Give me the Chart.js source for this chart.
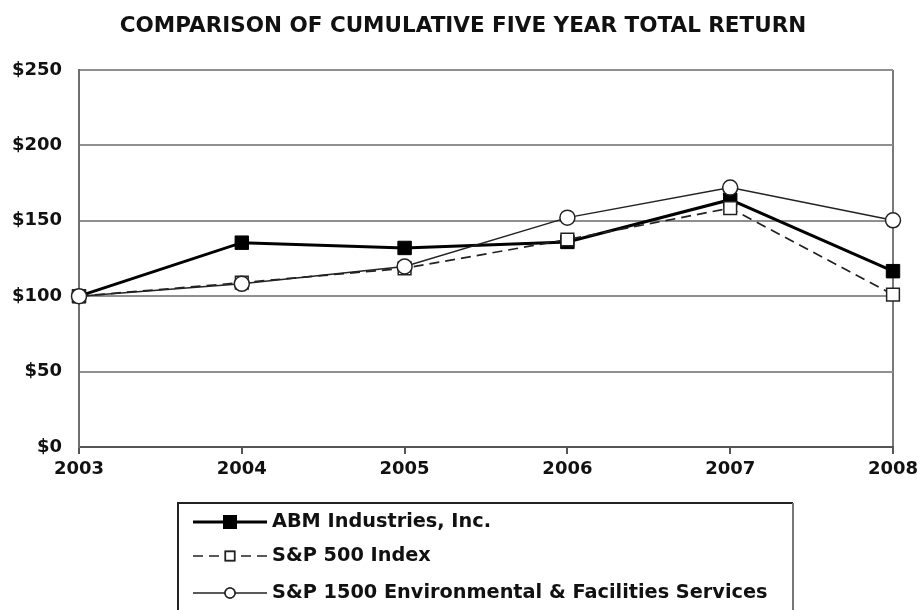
<!DOCTYPE html>
<html>
<head>
<meta charset="utf-8">
<script src="https://cdn.jsdelivr.net/npm/chart.js@4/dist/chart.umd.min.js"></script>
<style>
  body { margin: 0; background: #fff; }
  #wrap { width: 918px; height: 610px; }
</style>
</head>
<body>
<div id="wrap"><canvas id="returnChart" width="918" height="610"></canvas></div>
<script>
// values
const years = ['2003', '2004', '2005', '2006', '2007', '2008'];
const abmValues = [100, 135.5, 132, 136, 164, 116.6];
const sp500Values = [100, 109, 118.5, 137.6, 158.4, 101];
const sp1500Values = [100, 108.2, 119.7, 152.1, 172, 150.3];
const yTicks = [0, 50, 100, 150, 200, 250];
const chartTitle = 'COMPARISON OF CUMULATIVE FIVE YEAR TOTAL RETURN';

const FONT = "'DejaVu Sans', sans-serif";
const INK = '#111';

// title sits a little right of the canvas centre in the original
const titleText = {
    id: 'titleText',
    afterDraw(chart) {
        const ctx = chart.ctx;
        ctx.save();
        ctx.fillStyle = INK;
        ctx.font = 'bold 21.5px ' + FONT;
        ctx.textAlign = 'center';
        ctx.textBaseline = 'middle';
        ctx.fillText(chartTitle, 463, 26);
        ctx.restore();
    }
};

// boxed legend under the plot, line sample with a marker in the middle
const boxLegend = {
    id: 'boxLegend',
    afterDraw(chart) {
        const ctx = chart.ctx;
        const left = 178, top = 503, right = 793;
        ctx.save();
        // frame (bottom runs off the canvas like in the original)
        ctx.strokeStyle = '#222';
        ctx.lineWidth = 2;
        ctx.beginPath();
        ctx.moveTo(left, 620);
        ctx.lineTo(left, top);
        ctx.lineTo(right, top);
        ctx.stroke();
        ctx.strokeStyle = '#777';
        ctx.beginPath();
        ctx.moveTo(right, top);
        ctx.lineTo(right, 620);
        ctx.stroke();

        const rows = [522, 556, 593];
        const markerSize = [6, 5, 5];
        chart.data.datasets.forEach((ds, i) => {
            const y = rows[i];
            ctx.strokeStyle = ds.borderColor;
            ctx.lineWidth = ds.borderWidth;
            ctx.setLineDash(ds.borderDash || []);
            ctx.beginPath();
            ctx.moveTo(193, y);
            ctx.lineTo(267, y);
            ctx.stroke();
            ctx.setLineDash([]);
            Chart.helpers.drawPoint(ctx, {
                pointStyle: ds.pointStyle,
                radius: ds.pointStyle === 'rect' ? markerSize[i] * 1.3 : markerSize[i],
                borderWidth: 1.5
            }, 230, y);
            ctx.fillStyle = ds.pointBackgroundColor;
            ctx.strokeStyle = ds.pointBorderColor;
            ctx.lineWidth = 1.5;
            ctx.fill();
            ctx.stroke();

            ctx.fillStyle = INK;
            ctx.font = 'bold 19.3px ' + FONT;
            ctx.textBaseline = 'middle';
            ctx.textAlign = 'left';
            ctx.fillText(ds.label, 272, y);
        });
        ctx.restore();
    }
};

const ctx = document.getElementById('returnChart').getContext('2d');

new Chart(ctx, {
    type: 'line',
    data: {
        labels: years,
        datasets: [{
            label: 'ABM Industries, Inc.',
            data: abmValues,
            borderColor: '#000',
            borderWidth: 3,
            pointStyle: 'rect',
            pointRadius: 9.5,
            pointBackgroundColor: '#000',
            pointBorderColor: '#000',
            pointBorderWidth: 1,
            order: 2
        }, {
            label: 'S&P 500 Index',
            data: sp500Values,
            borderColor: '#222',
            borderWidth: 1.7,
            borderDash: [10, 6],
            pointStyle: 'rect',
            pointRadius: 9,
            pointBackgroundColor: '#fff',
            pointBorderColor: '#222',
            pointBorderWidth: 1.5,
            order: 1
        }, {
            label: 'S&P 1500 Environmental & Facilities Services',
            data: sp1500Values,
            borderColor: '#222',
            borderWidth: 1.5,
            pointStyle: 'circle',
            pointRadius: 7.5,
            pointBackgroundColor: '#fff',
            pointBorderColor: '#222',
            pointBorderWidth: 1.5,
            order: 0
        }]
    },
    options: {
        responsive: false,
        devicePixelRatio: 1,
        animation: false,
        layout: {
            padding: { left: 0, right: 25, top: 70, bottom: 123 }
        },
        plugins: {
            legend: { display: false },
            tooltip: { enabled: false },
            title: { display: false }
        },
        scales: {
            x: {
                offset: false,
                grid: {
                    // only the outer frame lines inside the plot
                    color: c => (c.index === 0 || c.index === years.length - 1) ? '#7a7a7a' : 'rgba(0,0,0,0)',
                    tickColor: '#555',
                    tickLength: 7,
                    lineWidth: 2
                },
                border: { display: true, color: '#555', width: 2 },
                ticks: {
                    color: INK,
                    padding: 5,
                    maxRotation: 0,
                    font: { family: FONT, size: 18, weight: 'bold' }
                },
                afterFit: s => { s.height = 40; s.paddingRight = 0; }
            },
            y: {
                min: 0,
                max: 250,
                afterBuildTicks: s => { s.ticks = yTicks.map(v => ({ value: v })); },
                grid: {
                    color: '#8f8f8f',
                    lineWidth: 2,
                    drawTicks: false
                },
                border: { display: true, color: '#6f6f6f', width: 2 },
                ticks: {
                    color: INK,
                    padding: 17,
                    font: { family: FONT, size: 18, weight: 'bold' },
                    callback: v => '$' + v
                },
                afterFit: s => { s.width = 79; }
            }
        }
    },
    plugins: [titleText, boxLegend]
});
</script>
</body>
</html>
